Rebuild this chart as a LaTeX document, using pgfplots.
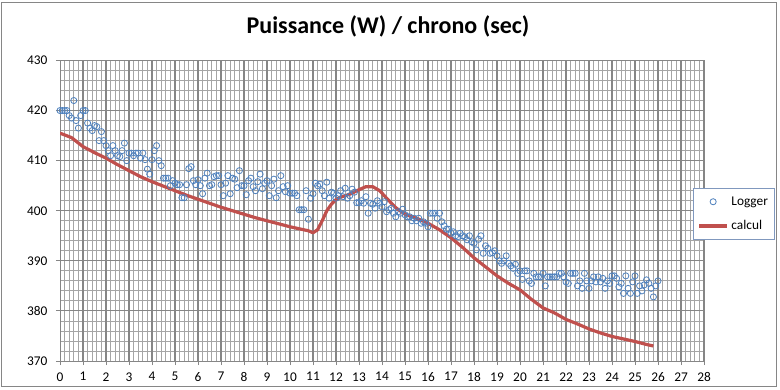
\documentclass[border=0pt]{standalone}
\usepackage{fontspec}
\setmainfont{Carlito}
\usepackage{pgfplots}
\pgfplotsset{compat=1.18}
\definecolor{gridmaj}{RGB}{134,134,134}
\definecolor{gridmin}{RGB}{165,165,165}
\definecolor{logblue}{RGB}{79,129,189}
\definecolor{calcred}{RGB}{192,80,77}
\definecolor{legbord}{RGB}{128,152,190}
\definecolor{frame}{RGB}{134,134,134}
\pgfplotsset{
  legmark/.style={legend image code/.code={\draw[mark repeat=2,mark phase=2,##1] plot coordinates {(0pt,0pt) (10.5pt,0pt) (21pt,0pt)};}},
  legline/.style={legend image code/.code={\draw[##1] (0pt,0pt) -- (21pt,0pt);}},
}
\begin{document}
\begin{tikzpicture}
\useasboundingbox (0,0) rectangle (585pt,291.75pt);
\draw[frame, line width=0.75pt] (0.75pt,2.25pt) rectangle (582pt,290pt);
\node[anchor=base, font=\bfseries\fontsize{18}{21}\selectfont] at (291pt,266.6pt) {Puissance (W) / chrono (sec)};
\begin{axis}[
  at={(45pt,21pt)}, anchor=south west,
  scale only axis, width=483pt, height=225.4pt,
  xmin=0, xmax=28, ymin=370, ymax=430,
  xtick={0,1,...,28}, ytick={370,380,...,430},
  minor x tick num=4, minor y tick num=4,
  grid=both,
  major grid style={draw=gridmaj, line width=0.75pt},
  minor grid style={draw=gridmin, line width=0.6pt},
  extra x ticks={1,2,...,28},
  extra x tick labels={},
  extra x tick style={xmajorgrids=true, major grid style={draw=gridmaj, line width=1.6pt}, major tick length=0pt},
  axis line style={draw=gridmaj, line width=0.75pt},
  tick align=outside, major tick length=3pt, minor tick length=0pt,
  tick style={draw=gridmaj, line width=0.75pt},
  xtick pos=bottom, ytick pos=left,
  /pgf/number format/assume math mode=true,
  ticklabel style={font=\fontsize{10}{12}\selectfont, text=black},
  yticklabel style={xshift=-3pt},
  xticklabel style={yshift=-2pt},
  legend style={at={(0.983,0.489)}, anchor=west, draw=legbord, line width=0.75pt,
    font=\fontsize{10}{12}\selectfont, cells={anchor=west}, row sep=6pt,
    inner xsep=3pt, inner ysep=4pt},
]
\addplot[only marks, mark=o, mark size=2.3pt, logblue, mark options={line width=0.6pt}, legmark]
table[row sep=\\]{
x y\\
0.0 420\\ 0.1 420\\ 0.2 420\\ 0.3 420\\ 0.4 419\\ 0.5 418.5\\ 0.6 422\\ 0.7 418\\ 0.8 416.5\\ 0.9 419\\
1.0 420\\ 1.1 420\\ 1.2 417.5\\ 1.3 416.5\\ 1.4 416\\ 1.5 417\\ 1.6 416.8\\ 1.7 414\\ 1.8 415.8\\ 1.9 414\\
2.0 413\\ 2.1 412\\ 2.2 411\\ 2.3 413\\ 2.4 412\\ 2.5 411\\ 2.6 410.8\\ 2.7 412\\ 2.8 413.5\\ 2.9 410\\
3.0 411.5\\ 3.1 411.5\\ 3.2 411\\ 3.3 411.5\\ 3.4 411.5\\ 3.5 410.5\\ 3.6 411.5\\ 3.7 410.2\\ 3.8 408.3\\ 3.9 407.3\\
4.0 410.2\\ 4.1 412\\ 4.2 413\\ 4.3 410\\ 4.4 409\\ 4.5 406.5\\ 4.6 406.5\\ 4.7 406.5\\ 4.8 405\\ 4.9 406\\
5.0 405.5\\ 5.1 405.2\\ 5.2 405.2\\ 5.3 402.6\\ 5.4 402.6\\ 5.5 405.2\\ 5.6 408.4\\ 5.7 408.8\\ 5.8 406\\ 5.9 405.2\\
6.0 406.2\\ 6.1 405\\ 6.2 403.4\\ 6.3 406.5\\ 6.4 407.5\\ 6.5 405\\ 6.6 405.2\\ 6.7 406.8\\ 6.8 407\\ 6.9 407\\
7.0 405.2\\ 7.1 403\\ 7.2 405.5\\ 7.3 407\\ 7.4 403.4\\ 7.5 406.5\\ 7.6 406.3\\ 7.7 404.6\\ 7.8 408\\ 7.9 405\\
8.0 405\\ 8.1 403.2\\ 8.2 406\\ 8.3 406.5\\ 8.4 404.8\\ 8.5 404\\ 8.6 405.8\\ 8.7 407.3\\ 8.8 404.4\\ 8.9 405.5\\
9.0 406\\ 9.1 403\\ 9.2 405\\ 9.3 406.3\\ 9.4 402.6\\ 9.5 404\\ 9.6 407\\ 9.7 404.8\\ 9.8 403.8\\ 9.9 405\\
10.0 403.5\\ 10.1 403.5\\ 10.2 403.5\\ 10.3 403\\ 10.4 400.2\\ 10.5 400.2\\ 10.6 400.2\\ 10.7 404\\ 10.8 398.3\\ 10.9 402.5\\
11.0 403.4\\ 11.1 405.5\\ 11.2 405\\ 11.3 405.3\\ 11.4 404\\ 11.5 403\\ 11.6 405.7\\ 11.7 402.5\\ 11.8 403.7\\ 11.9 403.5\\
12.0 402.5\\ 12.1 403\\ 12.2 404\\ 12.3 402.8\\ 12.4 404.5\\ 12.5 402.5\\ 12.6 403\\ 12.7 404.3\\ 12.8 403.7\\ 12.9 401.6\\
13.0 401.6\\ 13.1 402\\ 13.2 401.5\\ 13.3 402.8\\ 13.4 399.5\\ 13.5 401.5\\ 13.6 401.3\\ 13.7 400.5\\ 13.8 402\\ 13.9 401.5\\
14.0 400.8\\ 14.1 401.8\\ 14.2 399.8\\ 14.3 400.2\\ 14.4 400.5\\ 14.5 399.5\\ 14.6 398.8\\ 14.7 399.8\\ 14.8 399.5\\ 14.9 400.3\\
15.0 399.2\\ 15.1 398.8\\ 15.2 398.8\\ 15.3 398\\ 15.4 398.5\\ 15.5 398\\ 15.6 398.5\\ 15.7 397.5\\ 15.8 397.8\\ 15.9 397.5\\
16.0 396.8\\ 16.1 399.5\\ 16.2 399.5\\ 16.3 399.5\\ 16.4 398.5\\ 16.5 399.5\\ 16.6 397.8\\ 16.7 397\\ 16.8 396.3\\ 16.9 396.3\\
17.0 395.5\\ 17.1 395.8\\ 17.2 395\\ 17.3 394.8\\ 17.4 395.5\\ 17.5 395\\ 17.6 394.8\\ 17.7 394.2\\ 17.8 395\\ 17.9 393.8\\
18.0 393.5\\ 18.1 392.2\\ 18.2 394.3\\ 18.3 395\\ 18.4 391.5\\ 18.5 393\\ 18.6 392.5\\ 18.7 391.5\\ 18.8 391.6\\ 18.9 392\\
19.0 391\\ 19.1 390\\ 19.2 389.5\\ 19.3 390\\ 19.4 391\\ 19.5 389.5\\ 19.6 389\\ 19.7 388.5\\ 19.8 389.3\\ 19.9 387.5\\
20.0 388\\ 20.1 386.3\\ 20.2 388\\ 20.3 388\\ 20.4 386\\ 20.5 385.5\\ 20.6 387.5\\ 20.7 386.8\\ 20.8 386.8\\ 20.9 386.8\\
21.0 387.5\\ 21.1 385\\ 21.2 386.8\\ 21.3 386.8\\ 21.4 386.8\\ 21.5 386.8\\ 21.6 386.8\\ 21.7 387.5\\ 21.8 387.5\\ 21.9 386.8\\
22.0 385.8\\ 22.1 385.5\\ 22.2 387.5\\ 22.3 387.5\\ 22.4 387.5\\ 22.5 385\\ 22.6 386\\ 22.7 384.5\\ 22.8 387.5\\ 22.9 386\\
23.0 384.5\\ 23.1 386\\ 23.2 386.8\\ 23.3 385.8\\ 23.4 386.8\\ 23.5 385.8\\ 23.6 386.5\\ 23.7 384.5\\ 23.8 386\\ 23.9 385.5\\
24.0 387\\ 24.1 387\\ 24.2 386.5\\ 24.3 384.8\\ 24.4 385.5\\ 24.5 383.5\\ 24.6 387\\ 24.7 384.5\\ 24.8 383.5\\ 24.9 385.8\\
25.0 387\\ 25.1 383.5\\ 25.2 385\\ 25.3 384\\ 25.4 385.2\\ 25.5 386.2\\ 25.6 385.5\\ 25.7 384.5\\ 25.8 382.8\\ 25.9 385\\
26.0 386\\
};
\addlegendentry{Logger}
\addplot[calcred, line width=2.4pt, no marks, line join=round, legline]
table[row sep=\\]{
x y\\
0 415.5\\ 0.5 414.6\\ 1 412.8\\ 1.5 411.6\\ 2 410.5\\ 2.5 409.2\\ 3 408\\ 3.5 406.8\\ 4 405.8\\ 4.5 404.9\\
5 404\\ 5.5 403.1\\ 6 402.3\\ 6.5 401.5\\ 7 400.7\\ 7.5 400\\ 8 399.3\\ 8.5 398.6\\ 9 398\\ 9.5 397.4\\
10 396.8\\ 10.5 396.3\\ 10.8 396\\ 11 395.6\\ 11.2 396.2\\ 11.4 398\\ 11.6 400\\ 11.8 401.3\\ 12 402.2\\ 12.2 402.7\\
12.6 403.3\\ 13 404.2\\ 13.3 404.8\\ 13.6 404.8\\ 13.9 404\\ 14.2 402.5\\ 14.6 400.6\\ 15 399.3\\ 15.5 398.5\\ 16 397.5\\
16.5 396.2\\ 17 394.6\\ 17.5 392.7\\ 18 390.6\\ 18.5 388.8\\ 19 387\\ 19.5 385.5\\ 20 384.2\\ 20.5 382.3\\ 21 380.6\\
21.5 379.6\\ 22 378.3\\ 22.5 377.4\\ 23 376.4\\ 23.5 375.6\\ 24 374.9\\ 24.5 374.4\\ 25 373.9\\ 25.5 373.3\\ 25.8 373\\
};
\addlegendentry{calcul}
\end{axis}
\end{tikzpicture}
\end{document}
